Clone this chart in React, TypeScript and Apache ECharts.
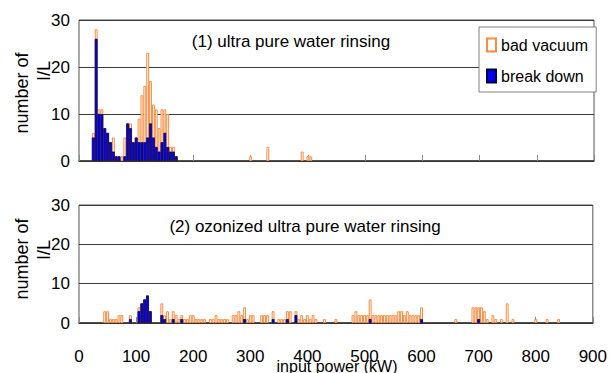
import React, { useEffect, useRef } from "react";
import * as echarts from "echarts";

// ---- Data (bin centres in kW, 5 kW bins) ----
// Panel (1) ultra pure water rinsing
const topCenters = [25, 30, 35, 40, 45, 50, 55, 60, 65, 70, 75, 80, 85, 90, 95, 100, 105, 110, 115, 120, 125, 130, 135, 140, 145, 150, 155, 160, 165, 170, 300, 330, 390, 400, 405];
const topTotals = [6, 28, 11, 11, 7, 6, 4, 5, 1, 1, 1, 5, 8, 8, 4, 5, 9, 14, 16, 23, 17, 12, 11, 7, 11, 11, 10, 3, 3, 1, 1, 3, 2, 1, 1];
const topBreakCenters = [25, 30, 35, 40, 45, 50, 55, 60, 65, 70, 80, 85, 90, 95, 100, 105, 110, 115, 120, 125, 130, 135, 140, 145, 150, 155, 160, 165, 170];
const topBreakValues = [5, 26, 10, 10, 7, 6, 4, 2, 1, 1, 1, 8, 7, 4, 5, 4, 4, 4, 5, 8, 5, 3, 2, 4, 6, 3, 2, 2, 1];

// Panel (2) ozonized ultra pure water rinsing
const lowCenters = [45, 50, 55, 60, 65, 70, 75, 90, 105, 110, 115, 120, 125, 145, 150, 155, 160, 165, 170, 175, 180, 185, 190, 195, 200, 205, 210, 215, 220, 230, 235, 240, 245, 250, 255, 260, 270, 275, 280, 285, 290, 295, 300, 305, 320, 325, 330, 340, 350, 355, 360, 365, 370, 380, 385, 390, 395, 400, 405, 410, 415, 430, 450, 480, 485, 490, 495, 500, 505, 510, 515, 520, 525, 530, 535, 540, 545, 550, 555, 560, 565, 570, 575, 580, 585, 590, 595, 600, 660, 690, 695, 700, 705, 710, 715, 725, 730, 740, 750, 760, 800, 820, 840];
const lowTotals = [3, 3, 1, 1, 1, 2, 2, 2, 4, 5, 6, 7, 3, 5, 2, 3, 1, 3, 2, 1, 2, 1, 1, 2, 2, 1, 1, 1, 1, 1, 1, 2, 1, 1, 1, 1, 2, 2, 3, 2, 4, 1, 2, 2, 2, 2, 2, 3, 1, 1, 1, 3, 3, 3, 1, 2, 1, 2, 1, 2, 1, 1, 1, 2, 3, 2, 2, 2, 2, 6, 2, 2, 2, 2, 2, 2, 2, 2, 2, 3, 3, 2, 3, 2, 2, 2, 2, 4, 1, 4, 4, 4, 4, 3, 1, 2, 1, 1, 5, 1, 1, 1, 1];
const lowBreakCenters = [90, 105, 110, 115, 120, 125, 145, 150, 165, 180, 290, 340, 365, 380, 510, 600, 700];
const lowBreakValues = [1, 3, 5, 6, 7, 3, 2, 1, 1, 1, 1, 1, 1, 2, 1, 1, 1];

const xTicks = [0, 100, 200, 300, 400, 500, 600, 700, 800, 900];
const yTicks = [0, 10, 20, 30];

const legendNames = ["bad vacuum", "break down"];
const titles = ["(1) ultra pure water rinsing", "(2) ozonized ultra pure water rinsing"];
const yName = ["number of", "I/L"];
const xName = "input power (kW)";

const FONT = "'Liberation Sans', Arial, sans-serif";
const ORANGE = "#FF8A3D";
const BLUE = "#0000FF";

const pair = (xs: number[], ys: number[]) => xs.map((x, i) => [x, ys[i]]);

export default function App() {
  const ref = useRef<HTMLDivElement>(null);
  useEffect(() => {
    if (!ref.current) return;
    const chart = echarts.init(ref.current, undefined, { renderer: "svg" });
    const left = 79;
    const width = 515;
    const barW = (width / 900) * 5;
    const grids = [
      { left, top: 20, width, height: 141 },
      { left, top: 205, width, height: 118 },
    ];
    const xAxis = grids.map((_, i) => ({
      type: "value",
      gridIndex: i,
      min: xTicks[0],
      max: xTicks[xTicks.length - 1],
      interval: 100,
      axisLine: { show: true, onZero: false, lineStyle: { color: "#333", width: 1.5 } },
      axisTick: { show: true, inside: true, length: 6, lineStyle: { color: "#888" } },
      splitLine: { show: false },
      axisLabel: {
        show: i === 1,
        color: "#000",
        fontSize: 17,
        fontFamily: FONT,
        margin: 25,
      },
    }));
    const yAxis = grids.map((_, i) => ({
      type: "value",
      gridIndex: i,
      min: yTicks[0],
      max: yTicks[yTicks.length - 1],
      interval: 10,
      axisLine: { show: false },
      axisTick: { show: false },
      splitLine: { show: true, lineStyle: { color: "#3a3a3a", width: 1.2 } },
      axisLabel: { color: "#000", fontSize: 17, fontFamily: FONT, margin: 9 },
    }));
    const orangeStyle = { color: "#fff", borderColor: ORANGE, borderWidth: 1 };
    const blueStyle = { color: BLUE, borderColor: "#00003a", borderWidth: 0.7 };
    const mk = (name: string, gi: number, data: number[][], style: any) => ({
      name,
      type: "bar",
      xAxisIndex: gi,
      yAxisIndex: gi,
      data,
      barWidth: barW,
      barGap: "-100%",
      itemStyle: style,
      emphasis: { disabled: true },
    });
    const series = [
      mk(legendNames[0], 0, pair(topCenters, topTotals), orangeStyle),
      mk(legendNames[1], 0, pair(topBreakCenters, topBreakValues), blueStyle),
      mk(legendNames[0], 1, pair(lowCenters, lowTotals), orangeStyle),
      mk(legendNames[1], 1, pair(lowBreakCenters, lowBreakValues), blueStyle),
    ];
    const txt = (text: string, x: number, y: number, size: number, rot = 0, align = "center") => ({
      type: "text",
      x,
      y,
      rotation: rot,
      style: {
        text,
        fontSize: size,
        fontFamily: FONT,
        fill: "#000",
        textAlign: align,
        textVerticalAlign: "middle",
      },
      silent: true,
    });
    const R = Math.PI / 2;
    chart.setOption({
      animation: false,
      backgroundColor: "#fff",
      grid: grids.map((g) => ({ ...g, show: true, borderColor: "#555", borderWidth: 1 })),
      xAxis,
      yAxis,
      series,
      legend: {
        data: legendNames.map((name) => ({ name, icon: "rect" })),
        orient: "vertical",
        left: 479,
        top: 27,
        itemWidth: 9,
        itemHeight: 13,
        itemGap: 15,
        padding: [10, 8, 8, 7],
        backgroundColor: "#fff",
        borderColor: "#808080",
        borderWidth: 1,
        textStyle: { fontSize: 16, fontFamily: FONT, color: "#000", padding: [0, 0, 0, 0] },
        selectedMode: false,
      },
      graphic: [
        txt(titles[0], 291, 41, 17),
        txt(titles[1], 305, 226, 17),
        txt(yName[0], 22, 93, 18, R),
        txt(yName[1], 44, 71, 18, R),
        txt(yName[0], 22, 259, 18, R),
        txt(yName[1], 44, 250, 18, R),
        txt(xName, 337, 366, 16),
      ],
    });
    return () => chart.dispose();
  }, []);
  return (
    <div
      ref={ref}
      style={{ position: "fixed", left: 0, top: 0, width: 610, height: 373, background: "#fff" }}
    />
  );
}
